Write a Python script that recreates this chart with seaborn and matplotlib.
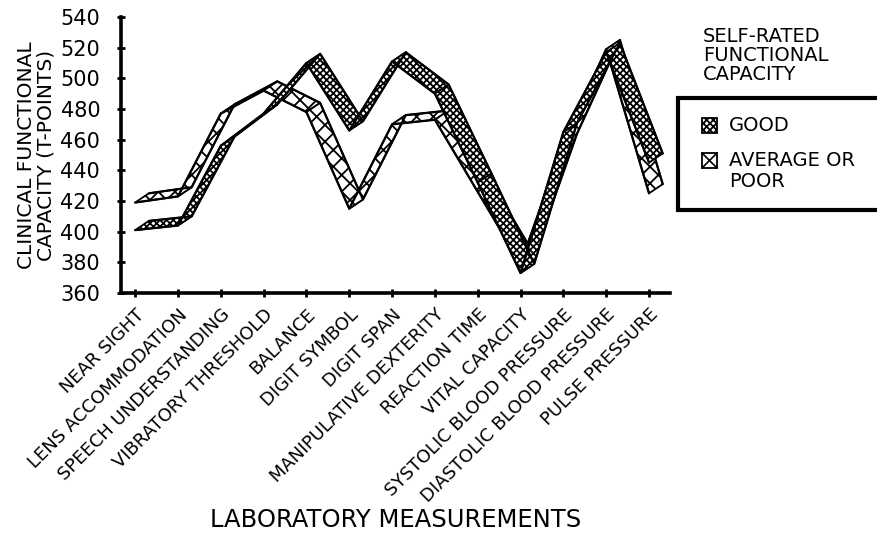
import numpy as np
import pandas as pd
import matplotlib
matplotlib.use("Agg")
import matplotlib.pyplot as plt
import matplotlib.transforms as mtransforms
import seaborn as sns
from matplotlib.patches import Polygon, Rectangle
from matplotlib.lines import Line2D

categories = ["NEAR SIGHT", "LENS ACCOMMODATION", "SPEECH UNDERSTANDING",
              "VIBRATORY THRESHOLD", "BALANCE", "DIGIT SYMBOL", "DIGIT SPAN",
              "MANIPULATIVE DEXTERITY", "REACTION TIME", "VITAL CAPACITY",
              "SYSTOLIC BLOOD PRESSURE", "DIASTOLIC BLOOD PRESSURE", "PULSE PRESSURE"]
good = [401, 404, 456, 477, 510, 466, 511, 490, 432, 373, 465, 517, 445]
average_or_poor = [419, 423, 477, 492, 478, 415, 470, 473, 426, 379, 458, 519, 425]
y_ticks = [360, 380, 400, 420, 440, 460, 480, 500, 520, 540]
series_names = ["GOOD", "AVERAGE OR POOR"]
legend_title = "SELF-RATED\nFUNCTIONAL\nCAPACITY"

sns.set_style("ticks")
plt.rcParams["font.family"] = ["DejaVu Sans"]
plt.rcParams["hatch.linewidth"] = 1.3
for k in ["text.color", "axes.labelcolor", "xtick.color", "ytick.color"]:
    plt.rcParams[k] = "black"

W, H = 878, 535
fig = plt.figure(figsize=(W / 100, H / 100), dpi=100)
ax = fig.add_axes([121 / W, 1 - 293 / H, (670 - 121) / W, (293 - 17) / H])

df = pd.DataFrame({
    "pos": list(range(len(categories))) * 2,
    "value": good + average_or_poor,
    "series": [series_names[0]] * len(good) + [series_names[1]] * len(average_or_poor),
})

# ribbon depth (3-D offset) in data units
DX, DY = 0.32, 6.0
styles = {"GOOD": ("xxxxx", 3), "AVERAGE OR POOR": ("xx", 2)}

for name in [series_names[1], series_names[0]]:
    sub = df[df["series"] == name].reset_index(drop=True)
    hatch, z = styles[name]
    xs = sub["pos"].to_numpy(dtype=float)
    vs = sub["value"].to_numpy(dtype=float)
    for i in range(len(xs) - 1):
        quad = [(xs[i], vs[i]), (xs[i + 1], vs[i + 1]),
                (xs[i + 1] + DX, vs[i + 1] + DY), (xs[i] + DX, vs[i] + DY)]
        ax.add_patch(Polygon(quad, closed=True, facecolor="white", edgecolor="black",
                             hatch=hatch, lw=1.3, zorder=z, joinstyle="round"))
    back = sub.assign(pos=sub["pos"] + DX, value=sub["value"] + DY)
    sns.lineplot(data=sub, x="pos", y="value", color="black", lw=1.6, ax=ax,
                 zorder=z + 0.1, legend=False)
    sns.lineplot(data=back, x="pos", y="value", color="black", lw=1.6, ax=ax,
                 zorder=z + 0.1, legend=False)

ax.set_xlim(-0.33, 12.49)
ax.set_ylim(360, 540)
ax.set_yticks(y_ticks)
ax.set_xticks(range(len(categories)))
ax.set_xticklabels(categories, rotation=45, ha="right", va="top",
                   rotation_mode="anchor", fontsize=13)
shift = mtransforms.ScaledTranslation(-5 / 100, 0, fig.dpi_scale_trans)
for lab in ax.get_xticklabels():
    lab.set_transform(lab.get_transform() + shift)
ax.tick_params(axis="y", labelsize=15, pad=12)
ax.tick_params(direction="inout", length=6, width=2, color="black")
ax.tick_params(axis="x", pad=6)
sns.despine(ax=ax)
for s in ["left", "bottom"]:
    ax.spines[s].set_linewidth(2.6)
    ax.spines[s].set_color("black")

ax.set_ylabel("CLINICAL FUNCTIONAL\nCAPACITY (T-POINTS)", fontsize=14.5,
              linespacing=1.0, ha="center", va="center")
ax.yaxis.set_label_coords((36 - 121) / 549, 0.5)
ax.set_xlabel("LABORATORY MEASUREMENTS", fontsize=17.5, va="center")
ax.xaxis.set_label_coords(0.5, (293 - 520) / 276)


def fx(px):
    return px / W


def fy(py):
    return 1 - py / H


fig.text(fx(703), fy(27), legend_title, fontsize=14, linespacing=1.0,
         ha="left", va="top")
fig.add_artist(Rectangle((fx(678), fy(210)), fx(900) - fx(678), fy(98) - fy(210),
                         transform=fig.transFigure, facecolor="white",
                         edgecolor="black", lw=3, clip_on=False))
for (name, ytop, label) in [(series_names[0], 118, "GOOD"),
                            (series_names[1], 153, "AVERAGE OR\nPOOR")]:
    hatch, _ = styles[name]
    fig.add_artist(Rectangle((fx(702), fy(ytop + 15)), fx(15), 15 / H,
                             transform=fig.transFigure, facecolor="white",
                             edgecolor="black", hatch=hatch if name == "GOOD" else None,
                             lw=1.3))
    if name != "GOOD":
        for (a, b) in [((702, ytop + 15), (717, ytop)), ((702, ytop), (717, ytop + 15))]:
            fig.add_artist(Line2D([fx(a[0]), fx(b[0])], [fy(a[1]), fy(b[1])],
                                  transform=fig.transFigure, color="black", lw=1.2))
    fig.text(fx(729), fy(ytop - 2), label, fontsize=14, linespacing=1.15,
             ha="left", va="top")

fig.savefig("out.png", dpi=100)
